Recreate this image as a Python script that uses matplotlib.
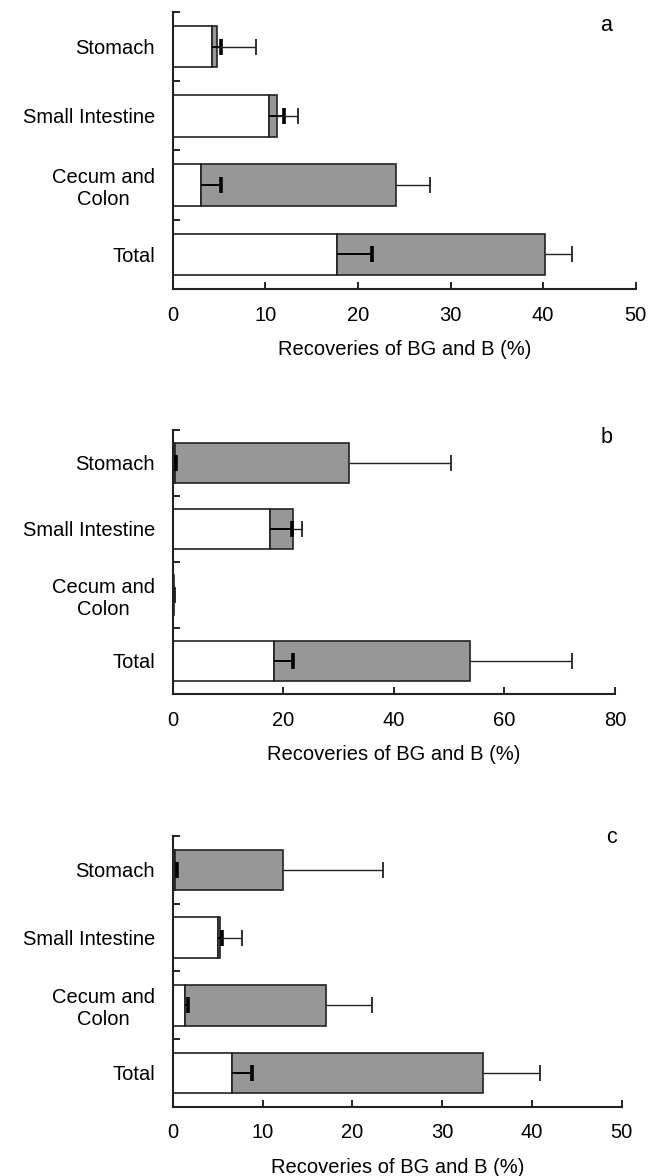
import matplotlib
matplotlib.use('Agg')
import matplotlib.pyplot as plt

plt.rcParams['font.family'] = ['Liberation Sans', 'DejaVu Sans']
plt.rcParams['font.size'] = 14.5

# Organ categories (top to bottom)
organs = ['Stomach', 'Small Intestine', 'Cecum and\nColon', 'Total']

# Panel a: BG (white) and B (grey) recoveries with SD
a_bg = [4.2, 10.4, 3.0, 17.7]
a_bg_err = [1.0, 1.6, 2.2, 3.8]
a_b = [0.55, 0.9, 21.1, 22.5]
a_b_err = [4.25, 2.2, 3.7, 2.9]

# Panel b
b_bg = [0.3, 17.6, 0.1, 18.3]
b_bg_err = [0.3, 3.9, 0.05, 3.5]
b_b = [31.6, 4.2, 0.1, 35.4]
b_b_err = [18.4, 1.5, 0.0, 18.6]

# Panel c
c_bg = [0.2, 5.0, 1.3, 6.55]
c_bg_err = [0.25, 0.45, 0.4, 2.3]
c_b = [12.05, 0.3, 15.7, 27.95]
c_b_err = [11.1, 2.4, 5.2, 6.4]

panels = [
    ('a', a_bg, a_bg_err, a_b, a_b_err, 50, [0, 10, 20, 30, 40, 50]),
    ('b', b_bg, b_bg_err, b_b, b_b_err, 80, [0, 20, 40, 60, 80]),
    ('c', c_bg, c_bg_err, c_b, c_b_err, 50, [0, 10, 20, 30, 40, 50]),
]

# axes rectangles [left, bottom, width, height] in figure fractions
rects = [
    [0.266, 0.7543, 0.712, 0.2355],
    [0.266, 0.4099, 0.680, 0.2245],
    [0.266, 0.0589, 0.6905, 0.2302],
]
letter_pos = [(0.937, 0.95), (0.982, 0.97), (0.977, 0.995)]

grey = '#979797'
edge = '#222222'


def one_sided(ax, start, err, y, lw, cap_lw, color):
    # error line from the bar end to the right, cap only at the far end
    ends = [s + e for s, e in zip(start, err)]
    ax.hlines(y, start, ends, colors=color, linewidth=lw, zorder=3)
    ax.plot(ends, y, linestyle='none', marker='|', markersize=11,
            markeredgewidth=cap_lw, color=color, zorder=3)


fig = plt.figure(figsize=(6.5, 11.76), dpi=100)

for (name, bg, bg_err, b, b_err, xmax, xticks), rect, lp in zip(panels, rects, letter_pos):
    ax = fig.add_axes(rect)
    y = list(range(len(organs)))
    totals = [w + g for w, g in zip(bg, b)]

    ax.barh(y, bg, height=0.6, color='white', edgecolor=edge, linewidth=1.2, zorder=2)
    ax.barh(y, b, left=bg, height=0.6, color=grey, edgecolor=edge, linewidth=1.2, zorder=2)

    one_sided(ax, bg, bg_err, y, 1.4, 2.6, 'black')
    one_sided(ax, totals, b_err, y, 1.0, 1.3, '#222222')

    ax.set_xlim(0, xmax)
    ax.set_ylim(3.5, -0.5)
    ax.set_xticks(xticks)
    ax.set_yticks(y)
    ax.set_yticklabels(organs)
    for lab in ax.get_yticklabels():
        lab.set_multialignment('center')
    ax.set_yticks([-0.5, 0.5, 1.5, 2.5, 3.5], minor=True)

    ax.tick_params(axis='y', which='major', length=0, pad=13)
    ax.tick_params(axis='y', which='minor', direction='in', length=5, width=1.2)
    ax.tick_params(axis='x', direction='in', length=5, width=1.2, pad=12)

    for s in ['top', 'right']:
        ax.spines[s].set_visible(False)
    for s in ['left', 'bottom']:
        ax.spines[s].set_linewidth(1.5)
        ax.spines[s].set_color('#222222')

    ax.set_xlabel('Recoveries of BG and B (%)', labelpad=11)
    ax.text(lp[0], lp[1], name, transform=ax.transAxes, ha='center', va='center',
            fontsize=15.5)

fig.savefig('out.png', dpi=100)
